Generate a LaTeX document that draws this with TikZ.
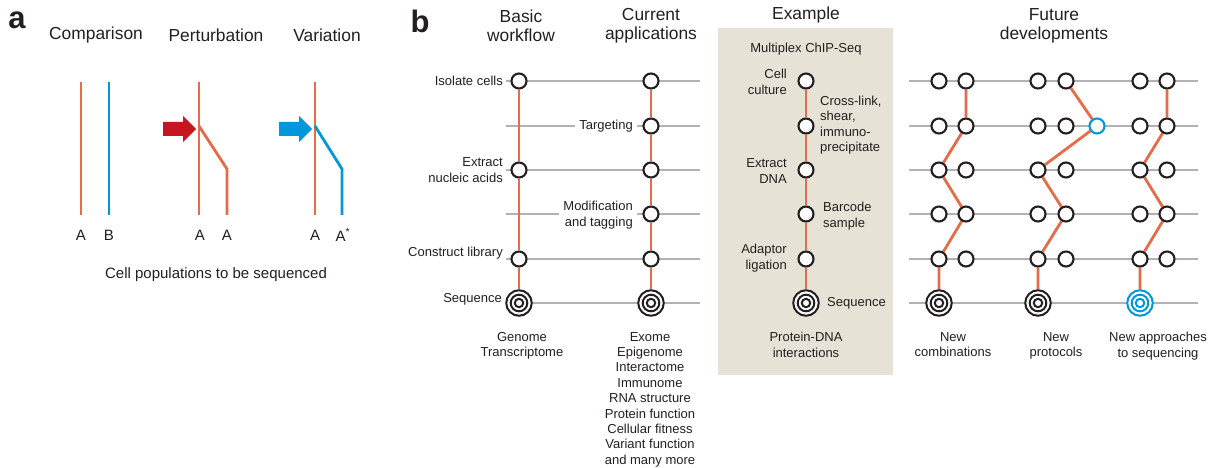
\documentclass[tikz,border=0pt]{standalone}
\usepackage{fontspec}
\setmainfont{Liberation Sans}
\usetikzlibrary{backgrounds}
\definecolor{orng}{RGB}{229,108,70}
\definecolor{skyb}{RGB}{0,152,218}
\definecolor{redar}{RGB}{200,22,32}
\definecolor{beige}{RGB}{230,226,213}
\definecolor{gln}{RGB}{178,178,178}
\definecolor{txt}{RGB}{35,31,32}
\begin{document}
\begin{tikzpicture}[x=1pt,y=-1pt,
  nd/.style={circle,draw=txt,line width=2.1pt,fill=white,minimum size=15pt,inner sep=0pt},
  bnd/.style={nd,draw=skyb},
  tgt/.style={circle,draw=#1,line width=2pt,fill=white,minimum size=25.5pt,inner sep=0pt,
    path picture={\draw[#1,line width=2pt] (path picture bounding box.center) circle[radius=8.3pt]
      (path picture bounding box.center) circle[radius=4.2pt];}},
  tgt/.default=txt,
  lbl/.style={font=\fontsize{13}{15.4}\selectfont,text=txt,inner sep=1pt},
  wlbl/.style={lbl,fill=white,inner sep=4pt},
  hdr/.style={font=\fontsize{17.4}{19}\selectfont,text=txt,align=center,inner sep=0pt},
  alab/.style={font=\fontsize{15}{17}\selectfont,text=txt,inner sep=0pt},
  panel/.style={font=\fontsize{31}{31}\selectfont\bfseries,text=txt,inner sep=0pt},
  gline/.style={draw=gln,line width=1.1pt},
  oline/.style={draw=orng,line width=2.8pt},
  bline/.style={draw=skyb,line width=2.8pt}]
\useasboundingbox (0,0) rectangle (1211,468);

% ---------------- panel a ----------------
\node[panel] (pa) at (17,20) {a};
\node[hdr] (hcomp) at (96,35) {Comparison};
\node[hdr] (hpert) at (216,35) {Perturbation};
\node[hdr] (hvar) at (327,35) {Variation};

\draw[oline] (81,82) -- (81,215);
\draw[bline] (109,82) -- (109,215);
\draw[oline] (199,82) -- (199,215);
\draw[oline,line join=miter] (199,126) -- (227,169) -- (227,215);
\draw[oline] (315,82) -- (315,215);
\draw[bline,line join=miter] (315,126) -- (342,169) -- (342,215);

\fill[redar] (163,122) -- (183,122) -- (183,116) -- (196,129) -- (183,142) -- (183,136) -- (163,136) -- cycle;
\fill[skyb] (279,122) -- (299,122) -- (299,116) -- (312,129) -- (299,142) -- (299,136) -- (279,136) -- cycle;

\node[alab] (a1) at (81,235) {A};
\node[alab] (a2) at (109,235) {B};
\node[alab] (a3) at (200,235) {A};
\node[alab] (a4) at (227,235) {A};
\node[alab] (a5) at (315,235) {A};
\node[alab] (a6) at (343,235) {A\textsuperscript{*}};
\node[alab] (acap) at (216,275) {Cell populations to be sequenced};

% ---------------- panel b ----------------
\node[panel] (pb) at (420,21) {b};
\node[hdr] (hbas) at (521,26) {Basic\\workflow};
\node[hdr] (hcur) at (651,26) {Current\\applications};
\node[hdr] (hex) at (806,15) {Example};
\node[hdr] (hfut) at (1054,26) {Future\\developments};

% basic workflow
\node[nd] (B1) at (519,81) {};
\node[nd] (B3) at (519,170) {};
\node[nd] (B5) at (519,259) {};
\node[tgt] (B6) at (519,303) {};
\node[lbl,anchor=east] (lB1) at (504,81) {Isolate cells};
\node[lbl,anchor=east,align=right] (lB3) at (504,170) {Extract\\nucleic acids};
\node[lbl,anchor=east] (lB5) at (504,253) {Construct library};
\node[lbl,anchor=east] (lB6) at (503,299) {Sequence};
\node[lbl,anchor=north,align=center] (oB) at (522,331) {Genome\\Transcriptome};

% current applications
\node[nd] (C1) at (651,81) {};
\node[nd] (C2) at (651,126) {};
\node[nd] (C3) at (651,170) {};
\node[nd] (C4) at (651,214) {};
\node[nd] (C5) at (651,259) {};
\node[tgt] (C6) at (651,303) {};
\node[wlbl,anchor=east] (lC2) at (637,126) {Targeting};
\node[wlbl,anchor=east,align=right] (lC4) at (637,215) {Modification\\and tagging};
\node[lbl,anchor=north,align=center] (oC) at (650,331) {Exome\\Epigenome\\Interactome\\Immunome\\RNA structure\\Protein function\\Cellular fitness\\Variant function\\and many more};

% example
\node[lbl] (eT) at (806,49) {Multiplex ChIP-Seq};
\node[nd] (E1) at (806,81) {};
\node[nd] (E2) at (806,126) {};
\node[nd] (E3) at (806,170) {};
\node[nd] (E4) at (806,214) {};
\node[nd] (E5) at (806,259) {};
\node[tgt] (E6) at (806,303) {};
\node[lbl,anchor=east,align=right] (lE1) at (788,82) {Cell\\culture};
\node[lbl,anchor=west,align=left] (lE2) at (819,125) {Cross-link,\\shear,\\immuno-\\precipitate};
\node[lbl,anchor=east,align=right] (lE3) at (788,171) {Extract\\DNA};
\node[lbl,anchor=west,align=left] (lE4) at (822,216) {Barcode\\sample};
\node[lbl,anchor=east,align=right] (lE5) at (788,258) {Adaptor\\ligation};
\node[lbl,anchor=west] (lE6) at (826,303) {Sequence};
\node[lbl,anchor=north,align=center] (oE) at (806,331) {Protein-DNA\\interactions};

% future developments
\foreach \g/\xl/\xr in {1/939/966,2/1038/1066,3/1140/1167}{
  \foreach \r/\yy in {1/81,2/126,3/170,4/214,5/259}{
    \node[nd] (F\g-\r-L) at (\xl,\yy) {};
    \node[nd] (F\g-\r-R) at (\xr,\yy) {};
  }
}
\node[tgt] (F1-6) at (939,303) {};
\node[tgt] (F2-6) at (1038,303) {};
\node[tgt=skyb] (F3-6) at (1140,303) {};
\node[bnd] (F2-x) at (1097,126) {};
\node[lbl,anchor=north,align=center] (oF1) at (953,331) {New\\combinations};
\node[lbl,anchor=north,align=center] (oF2) at (1056,331) {New\\protocols};
\node[lbl,anchor=north,align=center] (oF3) at (1158,331) {New approaches\\to sequencing};

% grid coordinates
\foreach \r/\yy in {1/81,2/126,3/170,4/214,5/259,6/303}{
  \coordinate (Lb\r) at (506,\yy);
  \coordinate (Rb\r) at (700,\yy);
  \coordinate (Lf\r) at (909,\yy);
  \coordinate (Rf\r) at (1198,\yy);
}

\begin{scope}[on background layer]
  \fill[white] (0,0) rectangle (1211,468);
  \fill[beige] (718,28) rectangle (893,375);
  \foreach \r in {1,2,3,4,5}{ \draw[gline] (Lb\r) -- (Rb\r); }
  \draw[gline] (B6.center) -- (Rb6);
  \foreach \r in {1,2,3,4,5,6}{ \draw[gline] (Lf\r) -- (Rf\r); }
  \draw[oline] (B1) -- (B3) -- (B5) -- (B6);
  \draw[oline] (C1) -- (C2) -- (C3) -- (C4) -- (C5) -- (C6);
  \draw[oline] (E1) -- (E2) -- (E3) -- (E4) -- (E5) -- (E6);
  \draw[oline] (F1-1-R) -- (F1-2-R) -- (F1-3-L) -- (F1-4-R) -- (F1-5-L) -- (F1-6);
  \draw[oline] (F2-1-R) -- (F2-x) -- (F2-3-L) -- (F2-4-R) -- (F2-5-L) -- (F2-6);
  \draw[oline] (F3-1-R) -- (F3-2-R) -- (F3-3-L) -- (F3-4-R) -- (F3-5-L) -- (F3-6);
\end{scope}
\end{tikzpicture}
\end{document}
